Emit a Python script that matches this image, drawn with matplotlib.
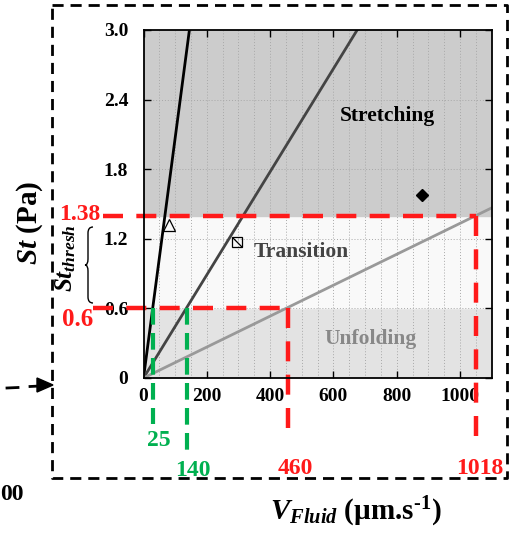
import matplotlib
matplotlib.use("Agg")
import matplotlib.pyplot as plt
from matplotlib.path import Path
from matplotlib.patches import PathPatch, Polygon
from matplotlib.lines import Line2D
import numpy as np

plt.rcParams['font.family'] = 'Liberation Serif'
plt.rcParams['font.weight'] = 'bold'
plt.rcParams['mathtext.fontset'] = 'custom'
plt.rcParams['mathtext.it'] = 'Liberation Serif:italic:bold'
plt.rcParams['mathtext.rm'] = 'Liberation Serif:bold'
plt.rcParams['mathtext.bf'] = 'Liberation Serif:bold'

# shear stress thresholds (Pa)
st_low = 0.6
st_high = 1.4
st_low_label = '0.6'
st_high_label = '1.38'

# fitted lines St = k * V, given as the velocity where St = 0.6
line_v_at_low = [29, 135, 450]
line_colors = ['#000000', '#444444', '#999999']

# threshold velocities (position, label)
green_v = [31, 138]
green_labels = ['25', '140']
red_v = [458, 1050]
red_labels = ['460', '1018']

# measured points
tri_pt = (81, 1.32)
sq_pt = (294, 1.175)
dia_pt = (881, 1.58)

W, H = 511, 536
fig = plt.figure(figsize=(W / 100, H / 100), dpi=100)


def fx(px):
    return px / W


def fy(py):
    return 1 - py / H


ax = fig.add_axes([fx(143.5), fy(378), 348.2 / W, 348 / H])
ax.set_xlim(0, 1100)
ax.set_ylim(0, 3.0)
ax.set_facecolor('none')

# regime bands
ax.axhspan(0, st_low, color='#e3e3e3', zorder=0)
ax.axhspan(st_low, st_high, color='#f9f9f9', zorder=0)
ax.axhspan(st_high, 3.0, color='#cccccc', zorder=0)

# grid
for gx in np.arange(50, 1100, 50):
    ax.axvline(gx, color='#a8a8a8', lw=0.7, ls=(0, (1, 2)), zorder=1)
for gy in [0.6, 1.2, 1.8, 2.4]:
    ax.axhline(gy, color='#a8a8a8', lw=0.7, ls=(0, (1, 2)), zorder=1)

xs = np.array([0, 1100])
for v, c in zip(line_v_at_low, line_colors):
    ax.plot(xs, xs * st_low / v, color=c, lw=2, zorder=3)

# red threshold lines
red_kw = dict(color='#ff1a1a', lw=3.2, ls=(0, (4.5, 3)), clip_on=False, zorder=4)
ax.plot([-127, red_v[1]], [st_high, st_high], **red_kw)
ax.plot([-160, red_v[0]], [st_low, st_low], **red_kw)
ax.plot([red_v[0], red_v[0]], [st_low, -0.53], **red_kw)
ax.plot([red_v[1], red_v[1]], [st_high, -0.55], **red_kw)

green_kw = dict(color='#00b050', lw=3, ls=(0, (4, 2)), clip_on=False, zorder=4)
ax.plot([green_v[0], green_v[0]], [st_low, -0.4], **green_kw)
ax.plot([green_v[1], green_v[1]], [st_low, -0.69], **green_kw)

# markers
ax.plot(*tri_pt, marker='^', ms=8, mfc='none', mec='black', mew=0.9, zorder=5)
ax.plot(*sq_pt, marker='s', ms=7, mfc='none', mec='black', mew=0.9, zorder=5)
diag = Path([(-1, 1), (1, -1)], [Path.MOVETO, Path.LINETO])
ax.plot(*sq_pt, marker=diag, ms=7, mec='black', mew=0.9, zorder=5)
ax.plot(*dia_pt, marker='D', ms=6, color='black', zorder=5)

ax.text(770, 2.26, 'Stretching', fontsize=15.5, fontweight='bold', color='black',
        ha='center', va='center', zorder=6)
ax.text(497, 1.09, 'Transition', fontsize=15.5, fontweight='bold', color='#444444',
        ha='center', va='center', zorder=6)
ax.text(718, 0.34, 'Unfolding', fontsize=15.5, fontweight='bold', color='#888888',
        ha='center', va='center', zorder=6)

ax.set_xticks([0, 200, 400, 600, 800, 1000])
ax.set_yticks([0, 0.6, 1.2, 1.8, 2.4, 3.0])
ax.set_yticklabels(['0', '0.6', '1.2', '1.8', '2.4', '3.0'])
ax.tick_params(direction='in', length=5, width=1, top=True, right=True,
               labelsize=14, zorder=7)
ax.tick_params(axis='x', pad=7)
ax.tick_params(axis='y', pad=11)
for lab in ax.get_xticklabels() + ax.get_yticklabels():
    lab.set_fontweight('bold')
for s in ax.spines.values():
    s.set_linewidth(1.3)
    s.set_zorder(8)

# threshold value labels
fig.text(fx(80), fy(214), st_high_label, color='#ff1a1a', fontsize=17,
         fontweight='bold', ha='center', va='center')
fig.text(fx(78), fy(320), st_low_label, color='#ff1a1a', fontsize=18,
         fontweight='bold', ha='center', va='center')
fig.text(fx(159), fy(440), green_labels[0], color='#00b050', fontsize=17,
         fontweight='bold', ha='center', va='center')
fig.text(fx(193), fy(471), green_labels[1], color='#00b050', fontsize=17,
         fontweight='bold', ha='center', va='center')
fig.text(fx(295), fy(468), red_labels[0], color='#ff1a1a', fontsize=17,
         fontweight='bold', ha='center', va='center')
fig.text(fx(480), fy(468), red_labels[1], color='#ff1a1a', fontsize=17,
         fontweight='bold', ha='center', va='center')

# axis titles
fig.text(fx(30), fy(223), r'$St$ (Pa)', rotation=90, fontsize=21,
         fontweight='bold', ha='center', va='center')
fig.text(fx(66), fy(258), r'$St_{thresh}$', rotation=90, fontsize=18,
         ha='center', va='center')
fig.text(fx(356), fy(512), '$V_{Fluid}$ (µm.s$^{\u2010 1}$)', fontsize=21,
         fontweight='bold', ha='center', va='center')

# curly brace for the threshold range
bx, by0, by1, tipx = 91, 227, 303, 85
bm = (by0 + by1) / 2
verts = [(fx(bx + 2), fy(by0)), (fx(bx - 3), fy(by0)), (fx(bx - 3), fy(by0 + 6)),
         (fx(bx - 3), fy(bm - 6)),
         (fx(bx - 3), fy(bm)), (fx(tipx), fy(bm)),
         (fx(bx - 3), fy(bm)), (fx(bx - 3), fy(bm + 6)),
         (fx(bx - 3), fy(by1 - 6)),
         (fx(bx - 3), fy(by1)), (fx(bx + 2), fy(by1))]
codes = [Path.MOVETO, Path.CURVE3, Path.CURVE3, Path.LINETO,
         Path.CURVE3, Path.CURVE3, Path.CURVE3, Path.CURVE3,
         Path.LINETO, Path.CURVE3, Path.CURVE3]
fig.add_artist(PathPatch(Path(verts, codes), fc='none', ec='black', lw=1,
                         transform=fig.transFigure))

# outer dashed panel frame
frame_x = [52, 507, 507, 52, 52]
frame_y = [5, 5, 478, 478, 5]
fig.add_artist(Line2D([fx(p) for p in frame_x], [fy(p) for p in frame_y],
                      color='black', lw=2, ls=(0, (4, 2.5)),
                      transform=fig.transFigure))

# arrow coming from neighbouring panel
fig.add_artist(Line2D([fx(7), fx(18)], [fy(388), fy(387.5)], color='black', lw=2,
                      transform=fig.transFigure))
fig.add_artist(Line2D([fx(30), fx(40)], [fy(386.5), fy(386)], color='black', lw=2,
                      transform=fig.transFigure))
fig.add_artist(Polygon([(fx(37), fy(378)), (fx(53), fy(385)), (fx(37), fy(392))],
                       closed=True, color='black', transform=fig.transFigure))

# visible end of the neighbouring panel's tick label
fig.text(fx(0), fy(495), '00', fontsize=17, fontweight='bold',
         ha='left', va='center')

fig.savefig('out.png', dpi=100)
